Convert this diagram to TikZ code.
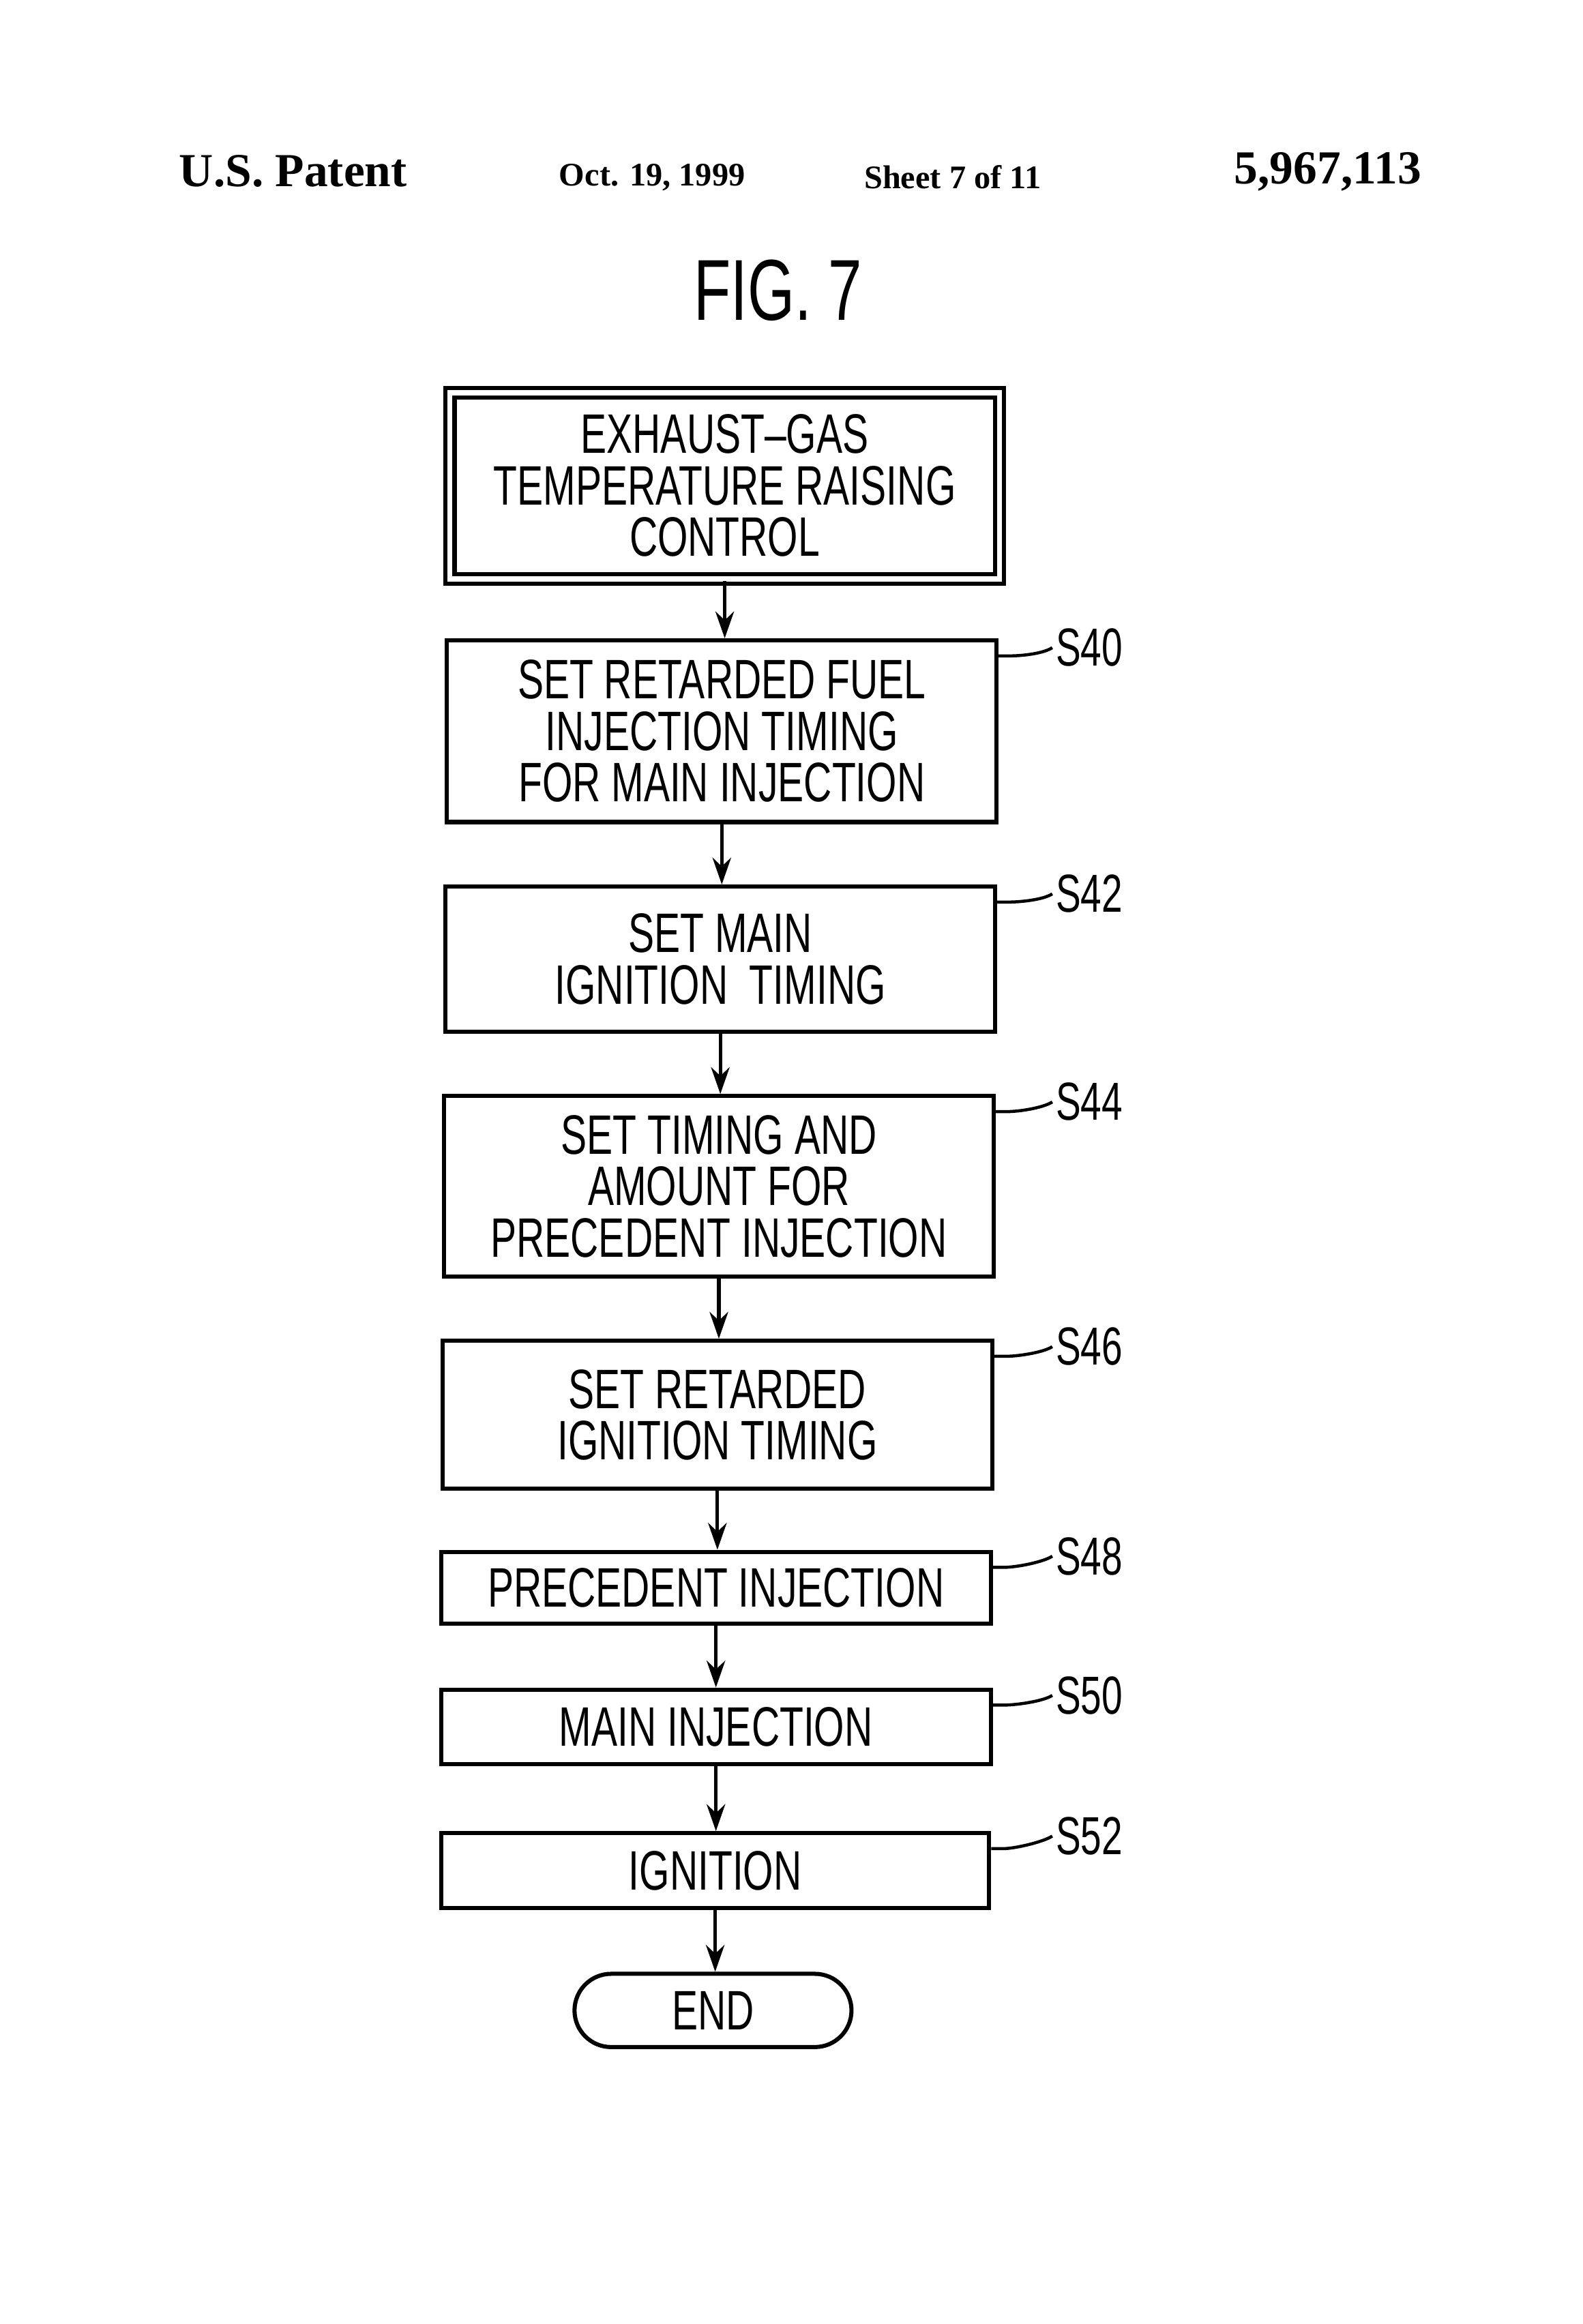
\documentclass[tikz,border=0pt]{standalone}
\usepackage{fontspec}
\setmainfont{Liberation Serif}
\newfontfamily\boxfont[FakeStretch=0.7]{Liberation Sans}
\usetikzlibrary{arrows.meta}
\begin{document}
\begin{tikzpicture}[x=0.05cm,y=-0.05cm,
  box/.style={draw,line width=4pt,inner sep=0pt,align=center,font=\boxfont\fontsize{54}{50}\selectfont},
  lab/.style={font=\boxfont\fontsize{52}{50}\selectfont,anchor=west},
  arr/.style={line width=3.5pt,-{Stealth[length=26pt,width=18pt]}},
  sq/.style={line width=3pt},
  hd/.style={font=\bfseries\fontsize{46}{46}\selectfont}]
\useasboundingbox (0,0) rectangle (1080,1586);
\fill[white] (0,0) rectangle (1080,1586);
\node[hd] (h1) at (200,117) {U.S. Patent};
\node[hd,font=\bfseries\fontsize{32}{32}\selectfont] (h2) at (445,121) {Oct. 19, 1999};
\node[hd,font=\bfseries\fontsize{32}{32}\selectfont] (h3) at (650,121) {Sheet 7 of 11};
\node[hd] (h4) at (906,117) {5,967,113};
\node[font=\boxfont\fontsize{84}{80}\selectfont] (fig) at (531,198) {FIG. 7};

\node[box,minimum width=18.75cm,minimum height=6.35cm,double,double distance=5pt] (t) at (494.5,331.5) {EXHAUST\textendash GAS\\TEMPERATURE RAISING\\CONTROL};
\node[box,minimum width=18.75cm,minimum height=6.2cm] (s40) at (492.5,499) {SET RETARDED FUEL\\INJECTION TIMING\\FOR MAIN INJECTION};
\node[box,minimum width=18.75cm,minimum height=4.95cm] (s42) at (491.5,654.5) {SET MAIN\\IGNITION\ \ TIMING};
\node[box,minimum width=18.75cm,minimum height=6.15cm] (s44) at (490.5,809.5) {SET TIMING AND\\AMOUNT FOR\\PRECEDENT INJECTION};
\node[box,minimum width=18.75cm,minimum height=5.05cm] (s46) at (489.5,965.5) {SET RETARDED\\IGNITION TIMING};
\node[box,minimum width=18.75cm,minimum height=2.45cm] (s48) at (488.5,1083.5) {PRECEDENT INJECTION};
\node[box,minimum width=18.75cm,minimum height=2.55cm] (s50) at (488.5,1178.5) {MAIN INJECTION};
\node[box,minimum width=18.7cm,minimum height=2.55cm] (s52) at (488,1276.5) {IGNITION};
\node[box,minimum width=9.45cm,minimum height=2.5cm,rounded corners=1.25cm] (end) at (486.5,1372) {END};

\foreach \a/\b in {t/s40,s40/s42,s42/s44,s44/s46,s46/s48,s48/s50,s50/s52,s52/end}
  \draw[arr] (\a.south) -- (\a.south |- \b.north);

\foreach \s/\y/\t in {s40/442/S40,s42/610/S42,s44/752/S44,s46/919/S46,s48/1062/S48,s50/1157/S50,s52/1253/S52}{
  \node[lab] (l\s) at (718,\y) {\t};
  \coordinate (c\s) at ([yshift=-0.6cm]\s.north east);
  \draw[sq] (c\s) -- ++(8,0) .. controls +(8,0) and +(-6,4) .. (l\s.west);
}
\end{tikzpicture}
\end{document}
